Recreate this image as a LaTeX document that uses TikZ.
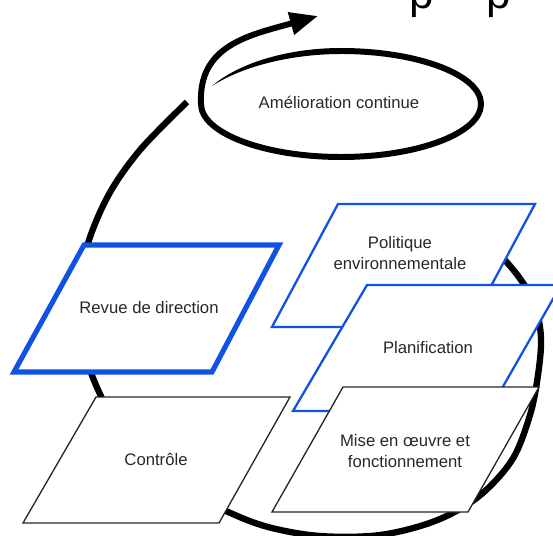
\documentclass[tikz,border=0pt]{standalone}
\usepackage{fontspec}
\setmainfont{Liberation Sans}
\usetikzlibrary{arrows.meta}
\definecolor{boxblue}{RGB}{15,82,228}
\definecolor{txt}{RGB}{40,40,40}
\begin{document}
\begin{tikzpicture}[x=0.02cm,y=-0.02cm,
  lbl/.style={font=\fontsize{9.5}{11.5}\selectfont, text=txt, align=center, inner sep=0pt},
  bluethick/.style={draw=boxblue, line width=2.9pt, fill=white},
  bluethin/.style={draw=boxblue, line width=1.3pt, fill=white},
  blackbox/.style={draw=black!85, line width=0.75pt, fill=white},
  loopline/.style={draw=black, line width=3.4pt},
  bigarc/.style={draw=black, line width=3.6pt},
  frag/.style={font=\fontsize{25}{25}\selectfont, anchor=base west, inner sep=0pt, text=black}
]
\useasboundingbox (0,0) rectangle (553,536);
\begin{scope}
\clip (0,0) rectangle (553,536);
\fill[white] (0,0) rectangle (553,536);
% cut-off glyphs at the top edge
\node[frag] (fragA) at (409,9) {p};
\node[frag] (fragB) at (486,9) {p};
% big cycle arc
\draw[bigarc] plot[smooth, tension=0.55] coordinates {(187,102) (140,150) (108,196) (86,250) (77,310) (90,370) (120,430) (168,482) (226,511) (268,527) (320,536) (380,535) (435,521) (478,497) (512,460) (530,415) (538,375) (541,338) (535,305) (521,280) (503,258) (488,244)};
% spiral with tapered start
\fill[black] (212,86) .. controls (240,62) and (290,48) .. (341,48) -- (341,54) .. controls (292,54) and (243,66) .. (212,86) -- cycle;
\draw[loopline, -{Triangle[length=16pt, width=12.5pt]}] (341,51) .. controls (418,51) and (481,75) .. (481,104) .. controls (481,133) and (418,157) .. (341,157) .. controls (264,157) and (201,133) .. (201,104) .. controls (198,45) and (250,35) .. (318,16);
\node[lbl] (amel) at (339,102) {Amélioration continue};
% boxes
\draw[bluethick] (84,245) -- (279,245) -- (212,372) -- (14,372) -- cycle;
\node[lbl] (revue) at (149,308) {Revue de direction};
\draw[bluethin] (338,204) -- (535,204) -- (469,327) -- (272,327) -- cycle;
\node[lbl] (politique) at (400,253) {Politique\\environnementale};
\draw[bluethin] (367,285) -- (561,285) -- (489,411) -- (293,411) -- cycle;
\node[lbl] (planif) at (428,348) {Planification};
\draw[blackbox] (96,397) -- (290,397) -- (219,523) -- (23,523) -- cycle;
\node[lbl] (controle) at (156,460) {Contrôle};
\draw[blackbox] (343,387) -- (539,387) -- (468,512) -- (272,512) -- cycle;
\node[lbl] (mise) at (405,451) {Mise en œuvre et\\fonctionnement};
\end{scope}
\end{tikzpicture}
\end{document}
